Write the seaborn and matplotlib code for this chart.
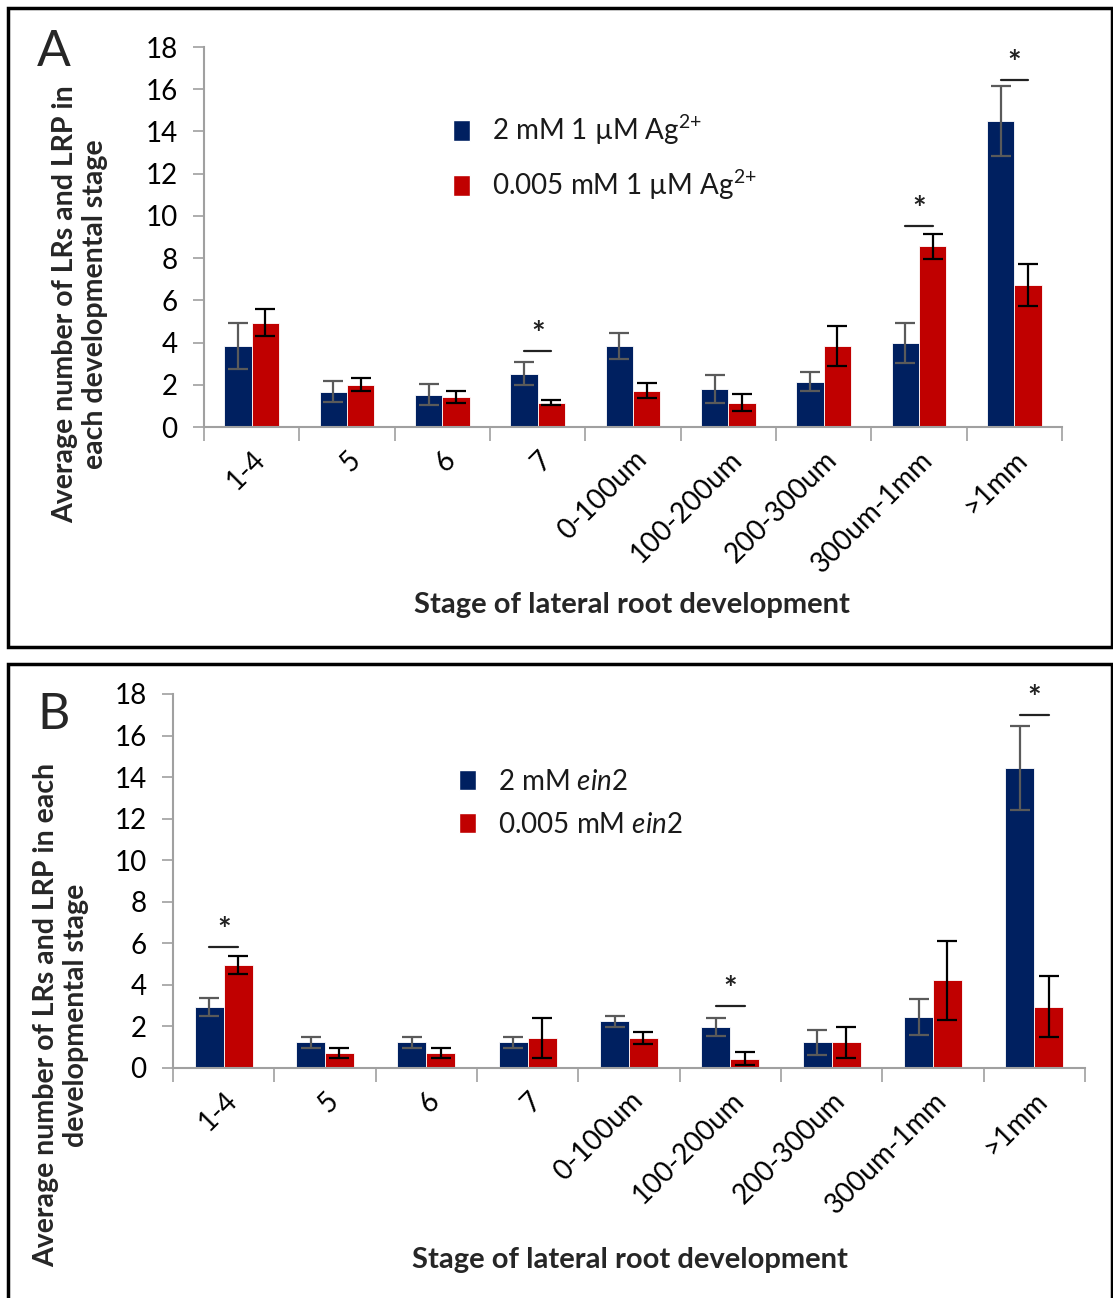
import matplotlib
matplotlib.use("Agg")
import matplotlib.pyplot as plt
import seaborn as sns
import pandas as pd
import numpy as np
from matplotlib.patches import Rectangle, Patch

sns.set_style("white")
plt.rcParams['font.family'] = ['Lato', 'DejaVu Sans']
plt.rcParams['mathtext.fontset'] = 'custom'
plt.rcParams['mathtext.rm'] = 'Lato'
plt.rcParams['mathtext.it'] = 'Lato:italic'
plt.rcParams['mathtext.bf'] = 'Lato:bold'

stages = ["1-4", "5", "6", "7", "0-100um", "100-200um", "200-300um", "300um-1mm", ">1mm"]

# Panel A
a_labels = ["2 mM 1 \u00b5M Ag$^{\\mathrm{2{+}}}$", "0.005 mM 1 \u00b5M Ag$^{\\mathrm{2{+}}}$"]
a_high = [3.85, 1.67, 1.52, 2.52, 3.84, 1.79, 2.15, 3.99, 14.49]
a_high_err = [1.1, 0.5, 0.5, 0.55, 0.6, 0.65, 0.45, 0.95, 1.66]
a_low = [4.95, 2.01, 1.44, 1.16, 1.72, 1.16, 3.84, 8.56, 6.72]
a_low_err = [0.65, 0.32, 0.28, 0.13, 0.36, 0.42, 0.93, 0.6, 1.0]
a_sig_idx = [3, 7, 8]
a_sig_y = [3.59, 9.53, 16.42]

# Panel B
b_labels = ["2 mM $\\mathit{ein2}$", "0.005 mM $\\mathit{ein2}$"]
b_high = [2.93, 1.23, 1.23, 1.23, 2.24, 1.96, 1.23, 2.45, 14.44]
b_high_err = [0.43, 0.27, 0.27, 0.27, 0.26, 0.43, 0.6, 0.86, 2.03]
b_low = [4.94, 0.72, 0.72, 1.44, 1.44, 0.45, 1.23, 4.23, 2.95]
b_low_err = [0.43, 0.25, 0.25, 0.96, 0.29, 0.3, 0.75, 1.9, 1.47]
b_sig_idx = [0, 5, 8]
b_sig_y = [5.80, 3.0, 17.0]

NAVY = "#002060"
RED = "#C00000"
W, H = 1113, 1298

fig = plt.figure(figsize=(W / 100, H / 100), dpi=100)


def fx(px):
    return px / W


def fy(py):
    return 1 - py / H


def panel(rect, labels, high, high_err, low, low_err, sig_idx, sig_y):
    ax = fig.add_axes(rect)
    df = pd.DataFrame({
        "stage": stages * 2,
        "group": [labels[0]] * len(stages) + [labels[1]] * len(stages),
        "value": high + low,
    })
    sns.barplot(data=df, x="stage", y="value", hue="group", order=stages,
                hue_order=labels, palette=[NAVY, RED], errorbar=None,
                width=0.57, saturation=1, ax=ax, edgecolor="white", linewidth=0.6)
    errs = [high_err, low_err]
    ecolors = ["#5a5a5a", "black"]
    centers = []
    for cont, err, ec in zip(ax.containers, errs, ecolors):
        xs = [b.get_x() + b.get_width() / 2 for b in cont]
        hs = [b.get_height() for b in cont]
        centers.append(xs)
        ax.errorbar(xs, hs, yerr=err, fmt="none", ecolor=ec, elinewidth=1.6,
                    capsize=7, capthick=1.6, zorder=3)
    for i, y in zip(sig_idx, sig_y):
        x0, x1 = centers[0][i], centers[1][i]
        ax.plot([x0, x1], [y, y], color="#222222", lw=1.6, zorder=4)
        ax.text((x0 + x1) / 2, y + 0.05, "*", ha="center", va="bottom",
                fontsize=23, fontweight="bold", color="#222222")
    ax.set_ylim(0, 18)
    ax.set_xlim(-0.5, len(stages) - 0.5)
    ax.set_yticks(np.arange(0, 19, 2))
    ax.tick_params(axis="y", labelsize=20, length=8, width=1.2, color="#a0a0a0",
                   pad=11, left=True, labelcolor="#000000")
    ax.set_xticks(range(len(stages)))
    ax.set_xticklabels(stages, rotation=45, ha="right", va="top",
                       rotation_mode="anchor", fontsize=20, color="#000000")
    ax.tick_params(axis="x", which="major", length=0, pad=14)
    ax.set_xticks(np.arange(-0.5, len(stages), 1), minor=True)
    ax.tick_params(axis="x", which="minor", length=10, width=1.2, color="#a0a0a0",
                   bottom=True)
    for s in ["top", "right"]:
        ax.spines[s].set_visible(False)
    for s in ["left", "bottom"]:
        ax.spines[s].set_color("#a0a0a0")
        ax.spines[s].set_linewidth(1.5)
    ax.set_xlabel("")
    ax.set_ylabel("")
    if ax.get_legend() is not None:
        ax.get_legend().remove()
    return ax


axA = panel([fx(204), fy(427), fx(1062) - fx(204), fy(47) - fy(427)],
            a_labels, a_high, a_high_err, a_low, a_low_err, a_sig_idx, a_sig_y)
axB = panel([fx(173), fy(1068), fx(1085) - fx(173), fy(694) - fy(1068)],
            b_labels, b_high, b_high_err, b_low, b_low_err, b_sig_idx, b_sig_y)

for ax, labels, anchor, lsp in [(axA, a_labels, (fx(428), fy(88)), 0.75),
                                (axB, b_labels, (fx(434), fy(744)), 0.6)]:
    handles = [Patch(facecolor=NAVY), Patch(facecolor=RED)]
    ax.legend(handles, labels, loc="upper left", bbox_to_anchor=anchor,
              bbox_transform=fig.transFigure, frameon=False, fontsize=20,
              handlelength=0.6, handleheight=0.75, handletextpad=0.8,
              labelspacing=lsp, labelcolor="#1a1a1a")

# y labels
fig.text(fx(80), fy(304), "Average number of LRs and LRP in\neach developmental stage",
         rotation=90, ha="center", va="center", fontsize=20.5, fontweight="bold",
         multialignment="center", linespacing=1.15)
fig.text(fx(61), fy(1015), "Average number of LRs and LRP in each\ndevelopmental stage",
         rotation=90, ha="center", va="center", fontsize=20.5, fontweight="bold",
         multialignment="center", linespacing=1.15)
# x labels
fig.text(fx(632), fy(605), "Stage of lateral root development", ha="center",
         va="center", fontsize=21, fontweight="bold")
fig.text(fx(630), fy(1260), "Stage of lateral root development", ha="center",
         va="center", fontsize=21, fontweight="bold")
# panel letters
fig.text(fx(54), fy(52), "A", ha="center", va="center", fontsize=36)
fig.text(fx(54), fy(715), "B", ha="center", va="center", fontsize=36)

# frames
fig.add_artist(Rectangle((fx(8), fy(647)), fx(1112) - fx(8), fy(8) - fy(647),
                         transform=fig.transFigure, fill=False, lw=2.5, ec="black"))
fig.add_artist(Rectangle((fx(8), fy(1310)), fx(1112) - fx(8), fy(664) - fy(1310),
                         transform=fig.transFigure, fill=False, lw=2.5, ec="black"))

fig.savefig("out.png", dpi=100)
